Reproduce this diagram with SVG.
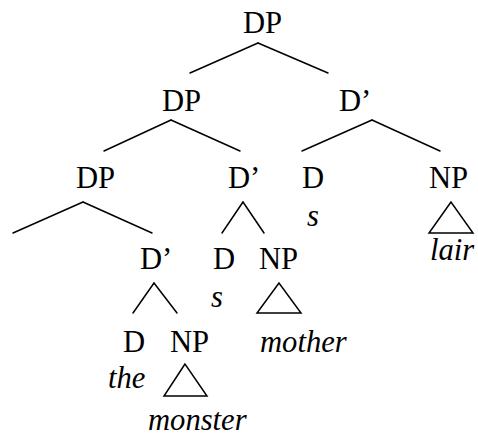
<svg xmlns="http://www.w3.org/2000/svg" width="478" height="437" viewBox="0 0 478 437">
<style>
text{font-family:"Liberation Serif","Times New Roman",serif;font-size:30.6px;fill:#000}
.it{font-style:italic}
line,polygon{stroke:#000;stroke-width:1.5;fill:none;stroke-linecap:round}
</style>
<rect width="478" height="437" fill="#fff"/>
<g id="connectors">
<line x1="258" y1="43" x2="190" y2="73"/>
<line x1="258" y1="43" x2="328" y2="73"/>
<line x1="171" y1="120" x2="104" y2="151"/>
<line x1="171" y1="120" x2="240" y2="151"/>
<line x1="372" y1="120" x2="302" y2="151"/>
<line x1="372" y1="120" x2="440" y2="151"/>
<line x1="83" y1="202" x2="13" y2="233"/>
<line x1="83" y1="202" x2="152" y2="233"/>
<line x1="243" y1="202" x2="222" y2="233"/>
<line x1="243" y1="202" x2="264" y2="233"/>
<line x1="154" y1="283" x2="133" y2="313"/>
<line x1="154" y1="283" x2="177" y2="313"/>
<polygon points="451,202 429,233 473,233"/>
<polygon points="279,283 257,313 301,313"/>
<polygon points="185,364 164,396 207,396"/>
</g>
<g id="dp-root"><text x="243" y="33">DP</text></g>
<g id="dp-2"><text x="162" y="111">DP</text></g>
<g id="dbar-2"><text x="339" y="111">D’</text></g>
<g id="dp-3"><text x="76" y="188">DP</text></g>
<g id="dbar-3"><text x="228" y="188">D’</text></g>
<g id="d-3"><text x="302" y="188">D</text><text class="it" x="307" y="226">s</text></g>
<g id="np-3"><text x="429" y="188">NP</text><text class="it" x="430" y="260">lair</text></g>
<g id="dbar-4"><text x="140" y="269">D’</text></g>
<g id="d-4"><text x="213" y="269">D</text><text class="it" x="211" y="307">s</text></g>
<g id="np-4"><text x="259" y="269">NP</text><text class="it" x="260" y="352">mother</text></g>
<g id="d-5"><text x="123" y="352">D</text><text class="it" x="108" y="388">the</text></g>
<g id="np-5"><text x="170" y="352">NP</text><text class="it" x="148" y="430">monster</text></g>
</svg>
